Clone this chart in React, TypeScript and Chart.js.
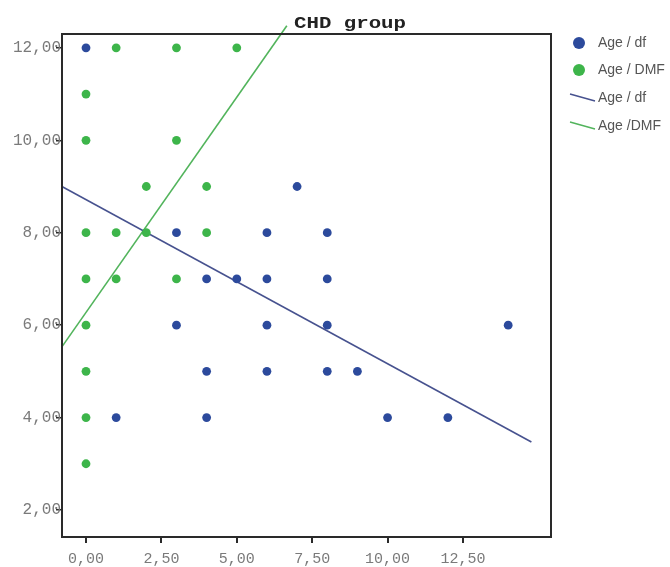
import React, { useEffect, useRef } from "react";
import { Chart, registerables } from "chart.js";

Chart.register(...registerables);

const chartTitle = "CHD group";

// Age / df (blue points)
const dfX = [0, 7, 3, 6, 8, 4, 5, 6, 8, 3, 6, 8, 14, 4, 6, 8, 9, 1, 4, 10, 12];
const dfY = [12, 9, 8, 8, 8, 7, 7, 7, 7, 6, 6, 6, 6, 5, 5, 5, 5, 4, 4, 4, 4];

// Age / DMF (green points)
const dmfX = [1, 3, 5, 0, 0, 3, 2, 4, 0, 1, 2, 4, 0, 1, 3, 0, 0, 0, 0];
const dmfY = [12, 12, 12, 11, 10, 10, 9, 9, 8, 8, 8, 8, 7, 7, 7, 6, 5, 4, 3];

// Fit lines (endpoints)
const dfLineX = [-0.8, 14.77];
const dfLineY = [9.0, 3.47];
const dmfLineX = [-0.8, 6.66];
const dmfLineY = [5.53, 12.48];

const xTicks = [0, 2.5, 5, 7.5, 10, 12.5];
const xTickLabels = ["0,00", "2,50", "5,00", "7,50", "10,00", "12,50"];
const yTicks = [2, 4, 6, 8, 10, 12];
const yTickLabels = ["2,00", "4,00", "6,00", "8,00", "10,00", "12,00"];

const legendLabels = ["Age / df", "Age / DMF", "Age / df", "Age /DMF"];

const BLUE = "#2c4a9c";
const GREEN = "#3db54a";
const BLUE_LINE = "#47528f";
const GREEN_LINE = "#52b45c";

const zip = (xs: number[], ys: number[]) => xs.map((x, i) => ({ x, y: ys[i] }));

const framePlugin = {
  id: "frameAndExtras",
  afterDraw(chart: any) {
    const { ctx, chartArea } = chart;
    ctx.save();
    // frame
    ctx.strokeStyle = "#2a2a2a";
    ctx.lineWidth = 2;
    ctx.strokeRect(chartArea.left, chartArea.top, chartArea.right - chartArea.left, chartArea.bottom - chartArea.top);

    // title
    ctx.fillStyle = "#222";
    ctx.font = "bold 17px 'Liberation Mono', monospace";
    ctx.textBaseline = "alphabetic";
    ctx.textAlign = "center";
    ctx.translate(350, 28);
    ctx.scale(1.22, 1);
    ctx.fillText(chartTitle, 0, 0);
    ctx.restore();

    // legend
    ctx.save();
    const ys = [43, 70, 98, 126];
    ctx.font = "14px 'Liberation Sans', Arial, sans-serif";
    ctx.textBaseline = "middle";
    ctx.textAlign = "left";
    chart.data.datasets.forEach((ds: any, i: number) => {
      const y = ys[i];
      if (ds.pointRadius > 0 && !ds.showLine) {
        ctx.fillStyle = ds.backgroundColor;
        ctx.beginPath();
        ctx.arc(579, y, 6, 0, Math.PI * 2);
        ctx.fill();
      } else {
        ctx.strokeStyle = ds.borderColor;
        ctx.lineWidth = 1.5;
        ctx.beginPath();
        ctx.moveTo(570, y - 4);
        ctx.lineTo(595, y + 3);
        ctx.stroke();
      }
      ctx.fillStyle = "#555";
      ctx.fillText(legendLabels[i], 598, y);
    });
    ctx.restore();
  },
};

export default function App() {
  const ref = useRef<HTMLCanvasElement>(null);
  useEffect(() => {
    if (!ref.current) return;
    const chart = new Chart(ref.current, {
      type: "scatter",
      data: {
        datasets: [
          {
            label: legendLabels[0],
            data: zip(dfX, dfY),
            backgroundColor: BLUE,
            borderColor: BLUE,
            pointRadius: 4.4,
            pointBorderWidth: 0,
            showLine: false,
          },
          {
            label: legendLabels[1],
            data: zip(dmfX, dmfY),
            backgroundColor: GREEN,
            borderColor: GREEN,
            pointRadius: 4.4,
            pointBorderWidth: 0,
            showLine: false,
          },
          {
            label: legendLabels[2],
            data: zip(dfLineX, dfLineY),
            borderColor: BLUE_LINE,
            backgroundColor: BLUE_LINE,
            borderWidth: 1.6,
            pointRadius: 0,
            showLine: true,
          },
          {
            label: legendLabels[3],
            data: zip(dmfLineX, dmfLineY),
            borderColor: GREEN_LINE,
            backgroundColor: GREEN_LINE,
            borderWidth: 1.6,
            pointRadius: 0,
            showLine: true,
            clip: false,
          },
        ],
      } as any,
      options: {
        animation: false,
        responsive: false,
        devicePixelRatio: 1,
        layout: { padding: { top: 34, right: 119, left: 0, bottom: 0 } },
        plugins: {
          legend: { display: false },
          title: { display: false },
          tooltip: { enabled: false },
        },
        scales: {
          x: {
            type: "linear",
            min: -0.796,
            max: 15.42,
            afterFit: (s: any) => {
              s.height = 30;
            },
            afterBuildTicks: (s: any) => {
              s.ticks = xTicks.map((v) => ({ value: v }));
            },
            border: { display: true, color: "#2a2a2a", width: 2 },
            grid: { drawOnChartArea: false, drawTicks: true, tickLength: 6, color: "#2a2a2a", lineWidth: 2 },
            ticks: {
              padding: 7,
              color: "#7a7a7a",
              font: { family: "'Liberation Mono', monospace", size: 15 },
              maxRotation: 0,
              callback: (v: any) => xTickLabels[xTicks.indexOf(Number(v))] ?? "",
            },
          },
          y: {
            type: "linear",
            min: 1.415,
            max: 12.3,
            afterFit: (s: any) => {
              s.width = 62;
            },
            afterBuildTicks: (s: any) => {
              s.ticks = yTicks.map((v) => ({ value: v }));
            },
            border: { display: true, color: "#2a2a2a", width: 2 },
            grid: { drawOnChartArea: false, drawTicks: true, tickLength: 6, color: "#2a2a2a", lineWidth: 1.5 },
            ticks: {
              padding: -5,
              color: "#7a7a7a",
              font: { family: "'Liberation Mono', monospace", size: 16 },
              callback: (v: any) => yTickLabels[yTicks.indexOf(Number(v))] ?? "",
            },
          },
        },
      } as any,
      plugins: [framePlugin],
    });
    return () => chart.destroy();
  }, []);
  return (
    <div style={{ position: "fixed", left: 0, top: 0, width: 670, height: 567, background: "#fff" }}>
      <canvas ref={ref} width={670} height={567} style={{ width: 670, height: 567, display: "block" }} />
    </div>
  );
}
